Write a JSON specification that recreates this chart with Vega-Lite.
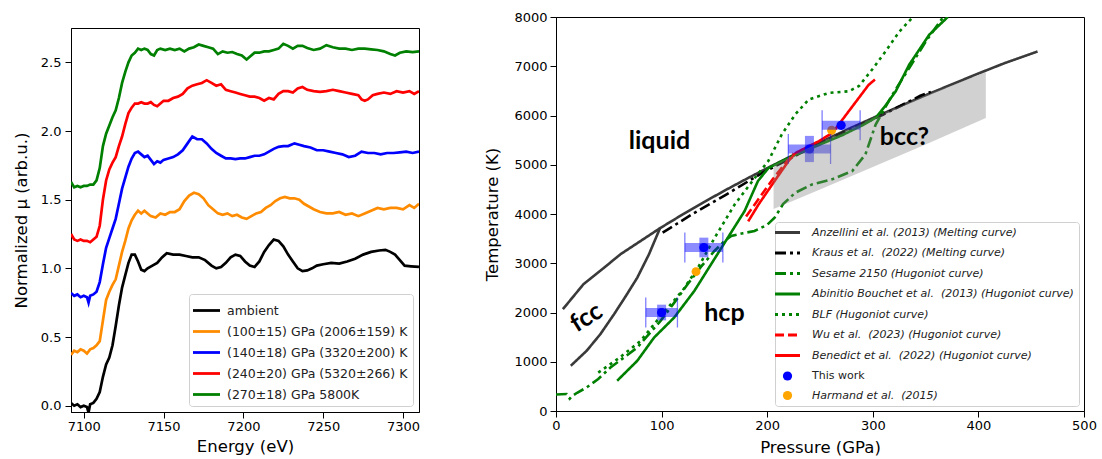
{
"$schema": "https://vega.github.io/schema/vega-lite/v6.json",
"background": "white",
"padding": {"left": 12, "top": 10, "right": 0, "bottom": 0},
"spacing": 63,
"config": {
  "font": "DejaVu Sans",
  "view": {"stroke": "black", "strokeWidth": 1},
  "axis": {"grid": false, "domainColor": "black", "tickColor": "black", "labelColor": "black", "titleColor": "black", "labelFontSize": 13, "titleFontSize": 16.5, "titleFontWeight": "normal", "tickSize": 6, "labelFlush": false}
},
"resolve": {"scale": {"color": "independent", "strokeDash": "independent"}, "legend": {"color": "independent"}},
"datasets": {
"spec": [
{"s":"a","E":7092,"m":0.02},{"s":"a","E":7094,"m":0.0},{"s":"a","E":7096,"m":0.01},{"s":"a","E":7098,"m":-0.01},{"s":"a","E":7100,"m":0.0},{"s":"a","E":7102,"m":-0.01},{"s":"a","E":7103,"m":-0.05},{"s":"a","E":7104,"m":0.01},{"s":"a","E":7106,"m":0.02},{"s":"a","E":7108,"m":0.05},{"s":"a","E":7110,"m":0.1},{"s":"a","E":7112,"m":0.21},{"s":"a","E":7114,"m":0.3},{"s":"a","E":7116,"m":0.35},{"s":"a","E":7118,"m":0.44},{"s":"a","E":7120,"m":0.58},{"s":"a","E":7122,"m":0.73},{"s":"a","E":7124,"m":0.86},{"s":"a","E":7126,"m":0.95},{"s":"a","E":7128,"m":1.04},{"s":"a","E":7130,"m":1.1},{"s":"a","E":7132,"m":1.1},{"s":"a","E":7134,"m":1.05},{"s":"a","E":7136,"m":0.99},{"s":"a","E":7138,"m":0.98},{"s":"a","E":7140,"m":1.0},{"s":"a","E":7143,"m":1.02},{"s":"a","E":7146,"m":1.04},{"s":"a","E":7149,"m":1.08},{"s":"a","E":7152,"m":1.11},{"s":"a","E":7156,"m":1.1},{"s":"a","E":7160,"m":1.1},{"s":"a","E":7164,"m":1.09},{"s":"a","E":7168,"m":1.08},{"s":"a","E":7172,"m":1.08},{"s":"a","E":7176,"m":1.06},{"s":"a","E":7180,"m":1.02},{"s":"a","E":7183,"m":1.0},{"s":"a","E":7186,"m":1.01},{"s":"a","E":7189,"m":1.04},{"s":"a","E":7192,"m":1.08},{"s":"a","E":7195,"m":1.1},{"s":"a","E":7198,"m":1.09},{"s":"a","E":7201,"m":1.05},{"s":"a","E":7204,"m":1.02},{"s":"a","E":7207,"m":1.01},{"s":"a","E":7210,"m":1.05},{"s":"a","E":7213,"m":1.12},{"s":"a","E":7216,"m":1.17},{"s":"a","E":7219,"m":1.21},{"s":"a","E":7222,"m":1.2},{"s":"a","E":7225,"m":1.16},{"s":"a","E":7228,"m":1.1},{"s":"a","E":7231,"m":1.05},{"s":"a","E":7234,"m":1.0},{"s":"a","E":7237,"m":0.98},{"s":"a","E":7240,"m":0.985},{"s":"a","E":7243,"m":1.0},{"s":"a","E":7246,"m":1.02},{"s":"a","E":7250,"m":1.03},{"s":"a","E":7255,"m":1.04},{"s":"a","E":7260,"m":1.035},{"s":"a","E":7265,"m":1.05},{"s":"a","E":7270,"m":1.07},{"s":"a","E":7275,"m":1.1},{"s":"a","E":7280,"m":1.12},{"s":"a","E":7285,"m":1.13},{"s":"a","E":7289,"m":1.135},{"s":"a","E":7292,"m":1.12},{"s":"a","E":7295,"m":1.1},{"s":"a","E":7298,"m":1.06},{"s":"a","E":7301,"m":1.02},{"s":"a","E":7305,"m":1.015},{"s":"a","E":7310,"m":1.01},
{"s":"o","E":7092,"m":0.37},{"s":"o","E":7094,"m":0.4},{"s":"o","E":7096,"m":0.39},{"s":"o","E":7098,"m":0.41},{"s":"o","E":7100,"m":0.4},{"s":"o","E":7102,"m":0.38},{"s":"o","E":7104,"m":0.41},{"s":"o","E":7106,"m":0.42},{"s":"o","E":7108,"m":0.44},{"s":"o","E":7110,"m":0.47},{"s":"o","E":7112,"m":0.62},{"s":"o","E":7114,"m":0.77},{"s":"o","E":7116,"m":0.83},{"s":"o","E":7118,"m":0.88},{"s":"o","E":7120,"m":0.92},{"s":"o","E":7122,"m":1.02},{"s":"o","E":7124,"m":1.12},{"s":"o","E":7126,"m":1.2},{"s":"o","E":7128,"m":1.29},{"s":"o","E":7130,"m":1.35},{"s":"o","E":7132,"m":1.39},{"s":"o","E":7134,"m":1.42},{"s":"o","E":7136,"m":1.4},{"s":"o","E":7138,"m":1.42},{"s":"o","E":7140,"m":1.4},{"s":"o","E":7142,"m":1.38},{"s":"o","E":7145,"m":1.37},{"s":"o","E":7148,"m":1.4},{"s":"o","E":7151,"m":1.39},{"s":"o","E":7154,"m":1.41},{"s":"o","E":7157,"m":1.41},{"s":"o","E":7160,"m":1.43},{"s":"o","E":7163,"m":1.49},{"s":"o","E":7166,"m":1.53},{"s":"o","E":7169,"m":1.55},{"s":"o","E":7172,"m":1.54},{"s":"o","E":7175,"m":1.51},{"s":"o","E":7178,"m":1.46},{"s":"o","E":7181,"m":1.43},{"s":"o","E":7184,"m":1.4},{"s":"o","E":7187,"m":1.39},{"s":"o","E":7190,"m":1.4},{"s":"o","E":7193,"m":1.38},{"s":"o","E":7196,"m":1.39},{"s":"o","E":7199,"m":1.37},{"s":"o","E":7202,"m":1.36},{"s":"o","E":7205,"m":1.38},{"s":"o","E":7208,"m":1.4},{"s":"o","E":7211,"m":1.41},{"s":"o","E":7214,"m":1.44},{"s":"o","E":7217,"m":1.46},{"s":"o","E":7220,"m":1.49},{"s":"o","E":7223,"m":1.51},{"s":"o","E":7226,"m":1.52},{"s":"o","E":7229,"m":1.51},{"s":"o","E":7232,"m":1.51},{"s":"o","E":7235,"m":1.5},{"s":"o","E":7238,"m":1.47},{"s":"o","E":7241,"m":1.45},{"s":"o","E":7244,"m":1.43},{"s":"o","E":7248,"m":1.41},{"s":"o","E":7252,"m":1.4},{"s":"o","E":7256,"m":1.4},{"s":"o","E":7260,"m":1.41},{"s":"o","E":7264,"m":1.39},{"s":"o","E":7268,"m":1.4},{"s":"o","E":7272,"m":1.38},{"s":"o","E":7276,"m":1.4},{"s":"o","E":7280,"m":1.42},{"s":"o","E":7284,"m":1.44},{"s":"o","E":7288,"m":1.43},{"s":"o","E":7292,"m":1.44},{"s":"o","E":7296,"m":1.44},{"s":"o","E":7300,"m":1.43},{"s":"o","E":7304,"m":1.46},{"s":"o","E":7307,"m":1.44},{"s":"o","E":7310,"m":1.47},
{"s":"b","E":7092,"m":0.82},{"s":"b","E":7094,"m":0.8},{"s":"b","E":7096,"m":0.81},{"s":"b","E":7098,"m":0.79},{"s":"b","E":7100,"m":0.8},{"s":"b","E":7102,"m":0.79},{"s":"b","E":7103,"m":0.75},{"s":"b","E":7104,"m":0.8},{"s":"b","E":7106,"m":0.81},{"s":"b","E":7108,"m":0.83},{"s":"b","E":7110,"m":0.9},{"s":"b","E":7112,"m":1.03},{"s":"b","E":7114,"m":1.15},{"s":"b","E":7116,"m":1.22},{"s":"b","E":7118,"m":1.29},{"s":"b","E":7120,"m":1.36},{"s":"b","E":7122,"m":1.47},{"s":"b","E":7124,"m":1.58},{"s":"b","E":7126,"m":1.66},{"s":"b","E":7128,"m":1.74},{"s":"b","E":7130,"m":1.8},{"s":"b","E":7132,"m":1.84},{"s":"b","E":7134,"m":1.85},{"s":"b","E":7136,"m":1.83},{"s":"b","E":7138,"m":1.81},{"s":"b","E":7140,"m":1.82},{"s":"b","E":7142,"m":1.79},{"s":"b","E":7144,"m":1.76},{"s":"b","E":7146,"m":1.78},{"s":"b","E":7148,"m":1.77},{"s":"b","E":7150,"m":1.79},{"s":"b","E":7153,"m":1.8},{"s":"b","E":7156,"m":1.81},{"s":"b","E":7159,"m":1.83},{"s":"b","E":7162,"m":1.86},{"s":"b","E":7165,"m":1.91},{"s":"b","E":7168,"m":1.96},{"s":"b","E":7171,"m":1.94},{"s":"b","E":7174,"m":1.94},{"s":"b","E":7177,"m":1.91},{"s":"b","E":7180,"m":1.87},{"s":"b","E":7183,"m":1.84},{"s":"b","E":7186,"m":1.82},{"s":"b","E":7189,"m":1.8},{"s":"b","E":7192,"m":1.8},{"s":"b","E":7195,"m":1.795},{"s":"b","E":7198,"m":1.8},{"s":"b","E":7201,"m":1.8},{"s":"b","E":7204,"m":1.81},{"s":"b","E":7207,"m":1.82},{"s":"b","E":7210,"m":1.82},{"s":"b","E":7213,"m":1.83},{"s":"b","E":7216,"m":1.85},{"s":"b","E":7219,"m":1.87},{"s":"b","E":7222,"m":1.885},{"s":"b","E":7225,"m":1.89},{"s":"b","E":7228,"m":1.89},{"s":"b","E":7232,"m":1.91},{"s":"b","E":7235,"m":1.9},{"s":"b","E":7238,"m":1.89},{"s":"b","E":7242,"m":1.88},{"s":"b","E":7246,"m":1.86},{"s":"b","E":7250,"m":1.86},{"s":"b","E":7254,"m":1.85},{"s":"b","E":7258,"m":1.84},{"s":"b","E":7262,"m":1.83},{"s":"b","E":7266,"m":1.81},{"s":"b","E":7270,"m":1.82},{"s":"b","E":7274,"m":1.85},{"s":"b","E":7278,"m":1.84},{"s":"b","E":7282,"m":1.84},{"s":"b","E":7286,"m":1.83},{"s":"b","E":7290,"m":1.84},{"s":"b","E":7294,"m":1.84},{"s":"b","E":7298,"m":1.845},{"s":"b","E":7302,"m":1.85},{"s":"b","E":7306,"m":1.84},{"s":"b","E":7310,"m":1.85},
{"s":"r","E":7092,"m":1.25},{"s":"r","E":7094,"m":1.21},{"s":"r","E":7096,"m":1.2},{"s":"r","E":7098,"m":1.21},{"s":"r","E":7100,"m":1.2},{"s":"r","E":7102,"m":1.2},{"s":"r","E":7104,"m":1.19},{"s":"r","E":7106,"m":1.21},{"s":"r","E":7108,"m":1.23},{"s":"r","E":7110,"m":1.31},{"s":"r","E":7112,"m":1.5},{"s":"r","E":7114,"m":1.64},{"s":"r","E":7116,"m":1.72},{"s":"r","E":7118,"m":1.77},{"s":"r","E":7120,"m":1.81},{"s":"r","E":7122,"m":1.89},{"s":"r","E":7124,"m":1.96},{"s":"r","E":7126,"m":2.05},{"s":"r","E":7128,"m":2.13},{"s":"r","E":7130,"m":2.17},{"s":"r","E":7132,"m":2.2},{"s":"r","E":7134,"m":2.2},{"s":"r","E":7136,"m":2.21},{"s":"r","E":7138,"m":2.2},{"s":"r","E":7140,"m":2.2},{"s":"r","E":7142,"m":2.21},{"s":"r","E":7144,"m":2.19},{"s":"r","E":7146,"m":2.18},{"s":"r","E":7148,"m":2.2},{"s":"r","E":7150,"m":2.22},{"s":"r","E":7153,"m":2.22},{"s":"r","E":7156,"m":2.24},{"s":"r","E":7159,"m":2.25},{"s":"r","E":7162,"m":2.27},{"s":"r","E":7165,"m":2.31},{"s":"r","E":7168,"m":2.33},{"s":"r","E":7171,"m":2.34},{"s":"r","E":7174,"m":2.35},{"s":"r","E":7177,"m":2.37},{"s":"r","E":7180,"m":2.35},{"s":"r","E":7183,"m":2.33},{"s":"r","E":7186,"m":2.34},{"s":"r","E":7189,"m":2.3},{"s":"r","E":7192,"m":2.29},{"s":"r","E":7195,"m":2.28},{"s":"r","E":7198,"m":2.27},{"s":"r","E":7201,"m":2.26},{"s":"r","E":7204,"m":2.25},{"s":"r","E":7207,"m":2.25},{"s":"r","E":7210,"m":2.24},{"s":"r","E":7213,"m":2.22},{"s":"r","E":7216,"m":2.24},{"s":"r","E":7219,"m":2.23},{"s":"r","E":7222,"m":2.27},{"s":"r","E":7225,"m":2.29},{"s":"r","E":7228,"m":2.29},{"s":"r","E":7231,"m":2.28},{"s":"r","E":7234,"m":2.31},{"s":"r","E":7237,"m":2.32},{"s":"r","E":7240,"m":2.3},{"s":"r","E":7244,"m":2.29},{"s":"r","E":7248,"m":2.285},{"s":"r","E":7252,"m":2.29},{"s":"r","E":7256,"m":2.3},{"s":"r","E":7260,"m":2.29},{"s":"r","E":7264,"m":2.28},{"s":"r","E":7268,"m":2.27},{"s":"r","E":7272,"m":2.26},{"s":"r","E":7274,"m":2.23},{"s":"r","E":7276,"m":2.22},{"s":"r","E":7278,"m":2.23},{"s":"r","E":7281,"m":2.26},{"s":"r","E":7284,"m":2.27},{"s":"r","E":7288,"m":2.28},{"s":"r","E":7292,"m":2.27},{"s":"r","E":7296,"m":2.29},{"s":"r","E":7300,"m":2.28},{"s":"r","E":7304,"m":2.29},{"s":"r","E":7307,"m":2.27},{"s":"r","E":7310,"m":2.29},
{"s":"g","E":7092,"m":1.63},{"s":"g","E":7094,"m":1.59},{"s":"g","E":7096,"m":1.6},{"s":"g","E":7098,"m":1.59},{"s":"g","E":7100,"m":1.6},{"s":"g","E":7102,"m":1.6},{"s":"g","E":7104,"m":1.61},{"s":"g","E":7106,"m":1.61},{"s":"g","E":7108,"m":1.64},{"s":"g","E":7110,"m":1.73},{"s":"g","E":7112,"m":1.89},{"s":"g","E":7114,"m":1.98},{"s":"g","E":7116,"m":2.04},{"s":"g","E":7118,"m":2.1},{"s":"g","E":7120,"m":2.15},{"s":"g","E":7122,"m":2.24},{"s":"g","E":7124,"m":2.35},{"s":"g","E":7126,"m":2.43},{"s":"g","E":7128,"m":2.5},{"s":"g","E":7130,"m":2.55},{"s":"g","E":7132,"m":2.57},{"s":"g","E":7134,"m":2.6},{"s":"g","E":7136,"m":2.59},{"s":"g","E":7138,"m":2.6},{"s":"g","E":7140,"m":2.59},{"s":"g","E":7142,"m":2.56},{"s":"g","E":7144,"m":2.55},{"s":"g","E":7146,"m":2.59},{"s":"g","E":7148,"m":2.6},{"s":"g","E":7151,"m":2.59},{"s":"g","E":7154,"m":2.6},{"s":"g","E":7157,"m":2.59},{"s":"g","E":7160,"m":2.6},{"s":"g","E":7163,"m":2.58},{"s":"g","E":7166,"m":2.6},{"s":"g","E":7169,"m":2.61},{"s":"g","E":7172,"m":2.63},{"s":"g","E":7175,"m":2.62},{"s":"g","E":7178,"m":2.61},{"s":"g","E":7181,"m":2.6},{"s":"g","E":7184,"m":2.56},{"s":"g","E":7187,"m":2.58},{"s":"g","E":7190,"m":2.57},{"s":"g","E":7193,"m":2.575},{"s":"g","E":7196,"m":2.56},{"s":"g","E":7199,"m":2.55},{"s":"g","E":7202,"m":2.52},{"s":"g","E":7204,"m":2.54},{"s":"g","E":7207,"m":2.57},{"s":"g","E":7210,"m":2.57},{"s":"g","E":7213,"m":2.58},{"s":"g","E":7216,"m":2.58},{"s":"g","E":7219,"m":2.59},{"s":"g","E":7222,"m":2.6},{"s":"g","E":7225,"m":2.635},{"s":"g","E":7228,"m":2.62},{"s":"g","E":7231,"m":2.6},{"s":"g","E":7234,"m":2.62},{"s":"g","E":7237,"m":2.62},{"s":"g","E":7240,"m":2.605},{"s":"g","E":7244,"m":2.59},{"s":"g","E":7248,"m":2.6},{"s":"g","E":7252,"m":2.625},{"s":"g","E":7256,"m":2.61},{"s":"g","E":7260,"m":2.6},{"s":"g","E":7264,"m":2.6},{"s":"g","E":7268,"m":2.59},{"s":"g","E":7272,"m":2.6},{"s":"g","E":7276,"m":2.6},{"s":"g","E":7280,"m":2.595},{"s":"g","E":7284,"m":2.59},{"s":"g","E":7288,"m":2.58},{"s":"g","E":7292,"m":2.56},{"s":"g","E":7295,"m":2.55},{"s":"g","E":7298,"m":2.57},{"s":"g","E":7302,"m":2.58},{"s":"g","E":7306,"m":2.575},{"s":"g","E":7310,"m":2.58}
],
"curves": [
{"s":"anz","g":"anz1","P":6.5,"T":2067},{"s":"anz","g":"anz1","P":26,"T":2574},{"s":"anz","g":"anz1","P":45,"T":2900},{"s":"anz","g":"anz1","P":61,"T":3182},{"s":"anz","g":"anz1","P":80,"T":3450},{"s":"anz","g":"anz1","P":98.5,"T":3712},{"s":"anz","g":"anz1","P":120,"T":3992},{"s":"anz","g":"anz1","P":140,"T":4241},{"s":"anz","g":"anz1","P":160,"T":4479},{"s":"anz","g":"anz1","P":180,"T":4709},{"s":"anz","g":"anz1","P":200,"T":4931},{"s":"anz","g":"anz1","P":225,"T":5198},{"s":"anz","g":"anz1","P":250,"T":5456},{"s":"anz","g":"anz1","P":275,"T":5707},{"s":"anz","g":"anz1","P":300,"T":5948},{"s":"anz","g":"anz1","P":325,"T":6183},{"s":"anz","g":"anz1","P":350,"T":6412},{"s":"anz","g":"anz1","P":375,"T":6634},{"s":"anz","g":"anz1","P":400,"T":6853},{"s":"anz","g":"anz1","P":425,"T":7065},{"s":"anz","g":"anz1","P":456,"T":7300},
{"s":"anz","g":"anz2","P":14,"T":918},{"s":"anz","g":"anz2","P":29,"T":1222},{"s":"anz","g":"anz2","P":42,"T":1560},{"s":"anz","g":"anz2","P":55,"T":1966},{"s":"anz","g":"anz2","P":66,"T":2330},{"s":"anz","g":"anz2","P":77,"T":2708},{"s":"anz","g":"anz2","P":88,"T":3180},{"s":"anz","g":"anz2","P":98.5,"T":3712},
{"s":"kra","g":"kra","P":101,"T":3620},{"s":"kra","g":"kra","P":130,"T":4010},{"s":"kra","g":"kra","P":160,"T":4380},{"s":"kra","g":"kra","P":195,"T":4830},{"s":"kra","g":"kra","P":230,"T":5220},{"s":"kra","g":"kra","P":270,"T":5630},{"s":"kra","g":"kra","P":310,"T":6020},{"s":"kra","g":"kra","P":345,"T":6400},{"s":"kra","g":"kra","P":355,"T":6480},
{"s":"ses","g":"ses","P":0,"T":335},{"s":"ses","g":"ses","P":10,"T":345},{"s":"ses","g":"ses","P":13,"T":250},{"s":"ses","g":"ses","P":15,"T":300},{"s":"ses","g":"ses","P":20,"T":370},{"s":"ses","g":"ses","P":29,"T":478},{"s":"ses","g":"ses","P":40,"T":650},{"s":"ses","g":"ses","P":51.6,"T":884},{"s":"ses","g":"ses","P":64,"T":1080},{"s":"ses","g":"ses","P":77,"T":1289},{"s":"ses","g":"ses","P":88,"T":1560},{"s":"ses","g":"ses","P":99,"T":1830},{"s":"ses","g":"ses","P":112,"T":2200},{"s":"ses","g":"ses","P":124.6,"T":2574},{"s":"ses","g":"ses","P":137,"T":2920},{"s":"ses","g":"ses","P":150,"T":3249},{"s":"ses","g":"ses","P":160,"T":3460},{"s":"ses","g":"ses","P":166,"T":3553},{"s":"ses","g":"ses","P":177,"T":3610},{"s":"ses","g":"ses","P":188,"T":3655},{"s":"ses","g":"ses","P":200,"T":3780},{"s":"ses","g":"ses","P":207,"T":3924},{"s":"ses","g":"ses","P":215,"T":4200},{"s":"ses","g":"ses","P":226.5,"T":4431},{"s":"ses","g":"ses","P":242.4,"T":4601},{"s":"ses","g":"ses","P":261.4,"T":4703},{"s":"ses","g":"ses","P":280.5,"T":4871},{"s":"ses","g":"ses","P":293,"T":5209},{"s":"ses","g":"ses","P":302.7,"T":5817},{"s":"ses","g":"ses","P":318.6,"T":6425},{"s":"ses","g":"ses","P":334.5,"T":6965},{"s":"ses","g":"ses","P":350.3,"T":7506},{"s":"ses","g":"ses","P":366.6,"T":8000},
{"s":"abi","g":"abi","P":57.9,"T":614},{"s":"abi","g":"abi","P":77,"T":1020},{"s":"abi","g":"abi","P":92.9,"T":1492},{"s":"abi","g":"abi","P":111.9,"T":1897},{"s":"abi","g":"abi","P":131,"T":2438},{"s":"abi","g":"abi","P":146.9,"T":2980},{"s":"abi","g":"abi","P":162.7,"T":3519},{"s":"abi","g":"abi","P":178.6,"T":4060},{"s":"abi","g":"abi","P":191.2,"T":4668},{"s":"abi","g":"abi","P":201,"T":4930},{"s":"abi","g":"abi","P":220,"T":5140},{"s":"abi","g":"abi","P":245.5,"T":5370},{"s":"abi","g":"abi","P":271,"T":5600},{"s":"abi","g":"abi","P":290,"T":5800},{"s":"abi","g":"abi","P":303,"T":5960},{"s":"abi","g":"abi","P":312,"T":6200},{"s":"abi","g":"abi","P":321.7,"T":6492},{"s":"abi","g":"abi","P":334.5,"T":7033},{"s":"abi","g":"abi","P":353.5,"T":7641},{"s":"abi","g":"abi","P":371,"T":8000},
{"s":"blf","g":"blf","P":40,"T":780},{"s":"blf","g":"blf","P":60,"T":1080},{"s":"blf","g":"blf","P":80,"T":1420},{"s":"blf","g":"blf","P":100,"T":1950},{"s":"blf","g":"blf","P":120,"T":2450},{"s":"blf","g":"blf","P":134.5,"T":2911},{"s":"blf","g":"blf","P":150.3,"T":3519},{"s":"blf","g":"blf","P":169.3,"T":4196},{"s":"blf","g":"blf","P":188.4,"T":4735},{"s":"blf","g":"blf","P":201,"T":5074},{"s":"blf","g":"blf","P":213.8,"T":5615},{"s":"blf","g":"blf","P":226.5,"T":6020},{"s":"blf","g":"blf","P":239.2,"T":6324},{"s":"blf","g":"blf","P":258.3,"T":6458},{"s":"blf","g":"blf","P":277.3,"T":6492},{"s":"blf","g":"blf","P":287,"T":6600},{"s":"blf","g":"blf","P":300,"T":6950},{"s":"blf","g":"blf","P":312,"T":7300},{"s":"blf","g":"blf","P":325,"T":7700},{"s":"blf","g":"blf","P":338,"T":8000},
{"s":"wu","g":"wu","P":180,"T":3950},{"s":"wu","g":"wu","P":190,"T":4250},{"s":"wu","g":"wu","P":205,"T":4700},{"s":"wu","g":"wu","P":218,"T":5050},{"s":"wu","g":"wu","P":225,"T":5230},
{"s":"ben","g":"ben","P":182,"T":3850},{"s":"ben","g":"ben","P":192,"T":4200},{"s":"ben","g":"ben","P":207,"T":4670},{"s":"ben","g":"ben","P":220,"T":5070},{"s":"ben","g":"ben","P":227,"T":5240},{"s":"ben","g":"ben","P":249,"T":5480},{"s":"ben","g":"ben","P":262,"T":5650},{"s":"ben","g":"ben","P":277,"T":6080},{"s":"ben","g":"ben","P":296,"T":6620},{"s":"ben","g":"ben","P":302,"T":6730}
],
"pts": [
{"s":"har","P":132.6,"T":2830},{"s":"har","P":261,"T":5700},
{"s":"tw","P":100,"T":2000},{"s":"tw","P":140,"T":3320},{"s":"tw","P":240,"T":5320},{"s":"tw","P":270,"T":5800}
],
"err": [
{"P":100,"T":2000,"Plo":85,"Phi":115,"Tlo":1841,"Thi":2159},
{"P":140,"T":3320,"Plo":122,"Phi":158,"Tlo":3120,"Thi":3520},
{"P":240,"T":5320,"Plo":220,"Phi":260,"Tlo":5054,"Thi":5586},
{"P":270,"T":5800,"Plo":252,"Phi":288}
],
"poly": [
{"P":206,"lo":4100,"hi":5000},{"P":250,"lo":4500,"hi":5456},{"P":300,"lo":4956,"hi":5948},{"P":350,"lo":5412,"hi":6412},{"P":407,"lo":5950,"hi":6880}
],
"txt": [
{"t":"liquid","P":98,"T":5480},{"t":"bcc?","P":330,"T":5560},{"t":"hcp","P":159.5,"T":2000},{"t":"fcc","P":28.6,"T":1900}
],
"blank": [{"k": 0}]
},
"hconcat": [
{
  "spacing": 6,
  "resolve": {"scale": {"color": "independent"}, "legend": {"color": "independent"}},
  "vconcat": [
    {
      "width": 348, "height": 2,
      "view": {"stroke": null},
      "data": {"name": "blank"},
      "mark": {"type": "point", "opacity": 0},
      "encoding": {}
    },
    {
      "width": 348, "height": 384,
      "data": {"name": "spec"},
      "mark": {"type": "line", "strokeWidth": 2.7, "clip": true},
      "encoding": {
        "x": {"field": "E", "type": "quantitative", "scale": {"domain": [7092, 7310], "nice": false, "zero": false},
              "axis": {"values": [7100, 7150, 7200, 7250, 7300], "format": "d", "title": "Energy (eV)", "titlePadding": 5}},
        "y": {"field": "m", "type": "quantitative", "scale": {"domain": [-0.046, 2.75], "nice": false, "zero": false},
              "axis": {"values": [0, 0.5, 1, 1.5, 2, 2.5], "format": ".1f", "title": "Normalized μ (arb.u.)", "titlePadding": 11, "labelPadding": 4}},
        "color": {"field": "s", "type": "nominal",
          "scale": {"domain": ["a", "o", "b", "r", "g"], "range": ["black", "#ff8c00", "blue", "red", "green"]},
          "legend": {"title": null, "orient": "bottom-right", "offset": 6,
            "labelExpr": "{'a':'ambient','o':'(100±15) GPa (2006±159) K','b':'(140±18) GPa (3320±200) K','r':'(240±20) GPa (5320±266) K','g':'(270±18) GPa 5800K'}[datum.value]",
            "labelFontSize": 12.5, "labelColor": "#222", "labelLimit": 400,
            "symbolType": "M-1.35,0H1.35", "symbolSize": 400, "symbolStrokeWidth": 2.8,
            "padding": 5, "rowPadding": 3, "symbolOffset": 1, "labelOffset": 9,
            "fillColor": "white", "strokeColor": "#d0d0d0", "cornerRadius": 3}}
      }
    }
  ]
},
{
  "width": 528, "height": 394,
  "layer": [
    {
      "data": {"name": "curves"},
      "mark": {"type": "line", "strokeWidth": 2.6, "clip": true},
      "encoding": {
        "x": {"field": "P", "type": "quantitative", "scale": {"domain": [0, 500], "nice": false},
              "axis": {"values": [0, 100, 200, 300, 400, 500], "title": "Pressure (GPa)", "titlePadding": 7}},
        "y": {"field": "T", "type": "quantitative", "scale": {"domain": [0, 8000], "nice": false},
              "axis": {"values": [0, 1000, 2000, 3000, 4000, 5000, 6000, 7000, 8000], "format": "d", "title": "Temperature (K)", "titlePadding": 13, "labelPadding": 3}},
        "color": {"field": "s", "type": "nominal",
          "scale": {"domain": ["anz", "kra", "ses", "abi", "blf", "wu", "ben", "tw", "har"],
                    "range": ["#3a3a3a", "black", "green", "green", "green", "red", "red", "blue", "orange"]},
          "legend": {"title": null, "orient": "bottom-right", "offset": 5,
            "labelExpr": "{'anz':'Anzellini et al. (2013) (Melting curve)','kra':'Kraus et al.\u00a0\u00a0(2022) (Melting curve)','ses':'Sesame 2150 (Hugoniot curve)','abi':'Abinitio Bouchet et al.\u00a0\u00a0(2013) (Hugoniot curve)','blf':'BLF (Hugoniot curve)','wu':'Wu et al.\u00a0\u00a0(2023) (Hugoniot curve)','ben':'Benedict et al.\u00a0\u00a0(2022) (Hugoniot curve)','tw':'This work','har':'Harmand et al.\u00a0\u00a0(2015)'}[datum.value]",
            "labelFontSize": 11, "labelFontStyle": "italic", "labelColor": "#222", "labelLimit": 400,
            "symbolType": "M-1.25,0H1.25", "symbolSize": 400, "symbolStrokeWidth": 2.8,
            "padding": 5, "rowPadding": 7.5, "symbolOffset": 2, "labelOffset": 19,
            "fillColor": "white", "strokeColor": "#d0d0d0", "cornerRadius": 3,
            "encode": {
              "symbols": {"update": {
                "shape": {"signal": "(datum.value==='tw'||datum.value==='har')?'circle':'M-1.25,0H1.25'"},
                "size": {"signal": "(datum.value==='tw'||datum.value==='har')?85:400"},
                "fill": {"signal": "datum.value==='tw'?'blue':(datum.value==='har'?'orange':'transparent')"},
                "stroke": {"signal": "{'anz':'#3a3a3a','kra':'black','ses':'green','abi':'green','blf':'green','wu':'red','ben':'red','tw':'transparent','har':'transparent'}[datum.value]"},
                "strokeWidth": {"signal": "(datum.value==='tw'||datum.value==='har')?0:2.8"},
                "strokeDash": {"signal": "datum.value==='blf'?[3,4]:(datum.value==='wu'?[9,4]:((datum.value==='kra'||datum.value==='ses')?[11,4,3,4]:[1,0]))"}
              }},
              "labels": {"update": {
                "fontStyle": {"signal": "datum.value==='tw'?'normal':'italic'"}
              }}
            }}},
        "strokeDash": {"field": "s", "type": "nominal",
          "scale": {"domain": ["anz", "kra", "ses", "abi", "blf", "wu", "ben", "tw", "har"],
                    "range": [[1, 0], [11, 4, 3, 4], [11, 4, 3, 4], [1, 0], [3, 4], [9, 4], [1, 0], [1, 0], [1, 0]]},
          "legend": null},
        "detail": {"field": "g", "type": "nominal"}
      }
    },
    {
      "data": {"name": "pts"},
      "transform": [{"filter": "datum.s==='har'"}],
      "mark": {"type": "point", "filled": true, "size": 80, "opacity": 1},
      "encoding": {
        "x": {"field": "P", "type": "quantitative"},
        "y": {"field": "T", "type": "quantitative"},
        "color": {"field": "s", "type": "nominal"}
      }
    },
    {
      "data": {"name": "err"},
      "mark": {"type": "rule", "strokeWidth": 9, "color": "blue", "opacity": 0.45},
      "encoding": {
        "x": {"field": "Plo", "type": "quantitative"},
        "x2": {"field": "Phi"},
        "y": {"field": "T", "type": "quantitative"}
      }
    },
    {
      "data": {"name": "err"},
      "transform": [{"filter": "isValid(datum.Tlo)"}],
      "mark": {"type": "rule", "strokeWidth": 9, "color": "blue", "opacity": 0.45},
      "encoding": {
        "x": {"field": "P", "type": "quantitative"},
        "y": {"field": "Tlo", "type": "quantitative"},
        "y2": {"field": "Thi"}
      }
    },
    {
      "data": {"name": "err"},
      "mark": {"type": "tick", "orient": "vertical", "size": 30, "thickness": 1.3, "color": "blue", "opacity": 0.5},
      "encoding": {
        "x": {"field": "Plo", "type": "quantitative"},
        "y": {"field": "T", "type": "quantitative"}
      }
    },
    {
      "data": {"name": "err"},
      "mark": {"type": "tick", "orient": "vertical", "size": 30, "thickness": 1.3, "color": "blue", "opacity": 0.5},
      "encoding": {
        "x": {"field": "Phi", "type": "quantitative"},
        "y": {"field": "T", "type": "quantitative"}
      }
    },
    {
      "data": {"name": "pts"},
      "transform": [{"filter": "datum.s==='tw'"}],
      "mark": {"type": "point", "filled": true, "size": 85, "opacity": 1},
      "encoding": {
        "x": {"field": "P", "type": "quantitative"},
        "y": {"field": "T", "type": "quantitative"},
        "color": {"field": "s", "type": "nominal"}
      }
    },
    {
      "data": {"name": "poly"},
      "mark": {"type": "area", "color": "#808080", "opacity": 0.36},
      "encoding": {
        "x": {"field": "P", "type": "quantitative"},
        "y": {"field": "lo", "type": "quantitative"},
        "y2": {"field": "hi"}
      }
    },
    {
      "data": {"name": "txt"},
      "transform": [{"filter": "datum.t!=='fcc'"}],
      "mark": {"type": "text", "font": "Lato", "fontWeight": "bold", "fontSize": 25, "color": "black", "align": "center", "baseline": "middle"},
      "encoding": {
        "x": {"field": "P", "type": "quantitative"},
        "y": {"field": "T", "type": "quantitative"},
        "text": {"field": "t"}
      }
    },
    {
      "data": {"name": "txt"},
      "transform": [{"filter": "datum.t==='fcc'"}],
      "mark": {"type": "text", "font": "Lato", "fontWeight": "bold", "fontSize": 25, "color": "black", "align": "center", "baseline": "middle", "angle": -32},
      "encoding": {
        "x": {"field": "P", "type": "quantitative"},
        "y": {"field": "T", "type": "quantitative"},
        "text": {"field": "t"}
      }
    }
  ]
}
]
}
